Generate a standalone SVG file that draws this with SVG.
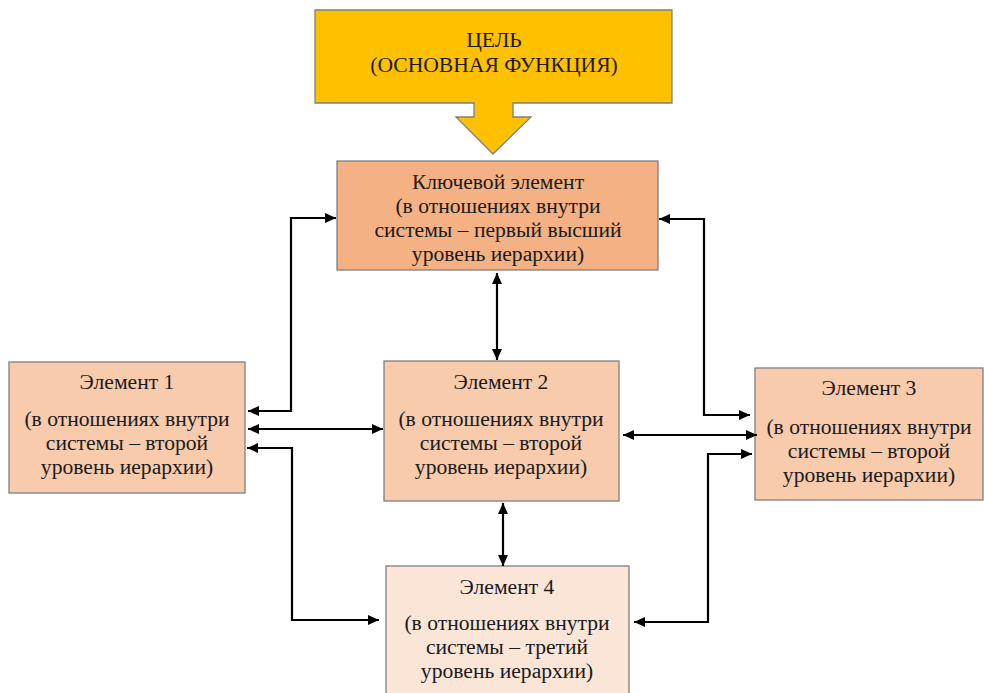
<svg xmlns="http://www.w3.org/2000/svg" width="984" height="693" viewBox="0 0 984 693">
<defs>
<marker id="ah" markerWidth="11" markerHeight="10" refX="11" refY="5" orient="auto-start-reverse" markerUnits="userSpaceOnUse">
<path d="M0,0 L11,5 L0,10 Z" fill="#000"/>
</marker>
</defs>
<style>
.box{stroke:#7f7f7f;stroke-width:1.3}
.t{font-family:"Liberation Serif","DejaVu Serif",serif;font-size:21.6px;fill:#1a1a1a;text-anchor:middle;dominant-baseline:central}
.c{fill:none;stroke:#000;stroke-width:2.2;marker-start:url(#ah);marker-end:url(#ah)}
</style>
<rect width="984" height="693" fill="#fff"/>
<g id="goal">
<path class="box" d="M315,10 H672 V103 H513 V117 H531 L493,154 L456,117 H474 V103 H315 Z" fill="#ffc000"/>
<text class="t" x="494" y="40">ЦЕЛЬ</text>
<text class="t" x="494" y="65">(ОСНОВНАЯ ФУНКЦИЯ)</text>
</g>
<g id="key">
<rect class="box" x="337" y="161" width="321" height="109" fill="#f4b183"/>
<text class="t" x="498" y="182">Ключевой элемент</text>
<text class="t" x="498" y="206">(в отношениях внутри</text>
<text class="t" x="498" y="230">системы – первый высший</text>
<text class="t" x="498" y="254">уровень иерархии)</text>
</g>
<g id="el1">
<rect class="box" x="9" y="362" width="236" height="131" fill="#f8cbad"/>
<text class="t" x="127" y="382">Элемент 1</text>
<text class="t" x="127" y="419">(в отношениях внутри</text>
<text class="t" x="127" y="443">системы – второй</text>
<text class="t" x="127" y="467">уровень иерархии)</text>
</g>
<g id="el2">
<rect class="box" x="384" y="361" width="235" height="140" fill="#f8cbad"/>
<text class="t" x="501" y="382">Элемент 2</text>
<text class="t" x="501" y="419">(в отношениях внутри</text>
<text class="t" x="501" y="443">системы – второй</text>
<text class="t" x="501" y="467">уровень иерархии)</text>
</g>
<g id="el3">
<rect class="box" x="755" y="368" width="228" height="132" fill="#f8cbad"/>
<text class="t" x="869" y="388">Элемент 3</text>
<text class="t" x="869" y="427">(в отношениях внутри</text>
<text class="t" x="869" y="451">системы – второй</text>
<text class="t" x="869" y="475">уровень иерархии)</text>
</g>
<g id="el4">
<rect class="box" x="386" y="566" width="243" height="140" fill="#fbe5d6"/>
<text class="t" x="507" y="587">Элемент 4</text>
<text class="t" x="507" y="623">(в отношениях внутри</text>
<text class="t" x="507" y="647">системы – третий</text>
<text class="t" x="507" y="671">уровень иерархии)</text>
</g>
<g id="connectors">
<path class="c" d="M248,411 H291 V218 H336"/>
<path class="c" d="M248,429 H383"/>
<path class="c" d="M247,448 H292 V620 H379"/>
<path class="c" d="M497,273 V360"/>
<path class="c" d="M659,219 H704 V415 H750"/>
<path class="c" d="M623,435 H757"/>
<path class="c" d="M634,622 H708 V454 H752"/>
<path class="c" d="M503,503 V566"/>
</g>
</svg>
